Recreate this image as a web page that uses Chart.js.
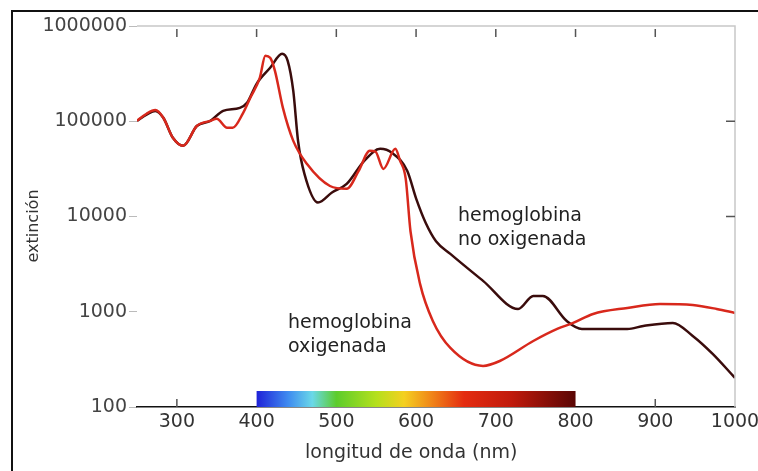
<!DOCTYPE html>
<html>
<head>
<meta charset="utf-8">
<script src="https://cdn.jsdelivr.net/npm/chart.js@4.4.1/dist/chart.umd.min.js"></script>
<style>
  html, body { margin: 0; padding: 0; background: #fff; }
  canvas { display: block; }
</style>
</head>
<body>
<canvas id="spectrum-chart" width="758" height="471"></canvas>
<script>
// wavelength axis (nm) and extinction axis (log)
const wavelengthTicks = [300, 400, 500, 600, 700, 800, 900, 1000];
const extinctionTicks = [100, 1000, 10000, 100000, 1000000];
const innerTopTicks = [300, 400, 500, 600, 700, 800, 900];
const innerBottomTicks = [300, 900];
const innerRightTicks = [10000, 100000];

// hemoglobina no oxigenada
const deoxyNm = [250, 262, 273, 283, 295, 308, 325, 342, 358, 379,
  388, 400, 417, 432, 439, 446, 452, 460, 477, 495,
  513, 535, 555, 570, 589, 600, 612, 625, 643, 684,
  728, 747, 759, 789, 808, 865, 885, 922, 947, 972, 1000];
const deoxyValues = [101000, 117000, 128500, 108700, 67000, 55200, 89100, 101000, 128500, 138000,
  156000, 247000, 364000, 511000, 431000, 208000, 62000, 28000, 14000, 18000,
  22000, 38400, 51300, 46500, 30000, 15500, 8600, 5500, 4050, 2110,
  1070, 1466, 1466, 800, 659, 659, 709, 763, 557, 361, 202];

// hemoglobina oxigenada
const oxyNm = [250, 262, 273, 283, 295, 308, 325, 342, 350, 363,
  370, 383, 392, 404, 411, 417, 423, 433, 446, 463,
  492, 513, 528, 542, 549, 559, 574, 580, 587, 593,
  605, 621, 643, 684, 705, 747, 777, 797, 822, 865,
  906, 947, 977, 1000];
const oxyValues = [101000, 120000, 131000, 108700, 67000, 55200, 89100, 101000, 106000, 85300,
  85300, 122000, 176000, 286000, 487000, 463000, 338000, 138000, 62200, 35700,
  20900, 19500, 30100, 48900, 48000, 31600, 51300, 38400, 25000, 7000,
  1960, 800, 417, 270, 304, 493, 660, 763, 948, 1097,
  1209, 1178, 1070, 971];

// visible spectrum strip
const spectrumNm = [400, 440, 470, 500, 550, 585, 620, 660, 720, 800];
const spectrumColors = ['#1f22d8', '#3f8cf0', '#6ad8e8', '#5ccc2c', '#b4e01c', '#f4d020',
  '#f08418', '#e42c10', '#c01a0c', '#5a0604'];

const FONT = '"DejaVu Sans", sans-serif';

const toPoints = (xs, ys) => xs.map((x, i) => ({ x: x, y: ys[i] }));

const decorations = {
  id: 'decorations',
  afterDatasetsDraw(chart) {
    const { ctx, chartArea: a, scales: { x, y } } = chart;
    ctx.save();

    // light frame on top and right
    ctx.strokeStyle = '#c8c8c8';
    ctx.lineWidth = 1.5;
    ctx.beginPath();
    ctx.moveTo(a.left, a.top);
    ctx.lineTo(a.right, a.top);
    ctx.lineTo(a.right, a.bottom);
    ctx.stroke();

    // inner tick marks
    ctx.strokeStyle = '#555';
    ctx.lineWidth = 1.5;
    ctx.beginPath();
    innerTopTicks.forEach(v => {
      const px = x.getPixelForValue(v);
      ctx.moveTo(px, a.top + 3);
      ctx.lineTo(px, a.top + 11);
    });
    innerBottomTicks.forEach(v => {
      const px = x.getPixelForValue(v);
      ctx.moveTo(px, a.bottom);
      ctx.lineTo(px, a.bottom - 8);
    });
    innerRightTicks.forEach(v => {
      const py = y.getPixelForValue(v);
      ctx.moveTo(a.right, py);
      ctx.lineTo(a.right - 9, py);
    });
    ctx.stroke();

    // spectrum strip
    const x0 = x.getPixelForValue(spectrumNm[0]);
    const x1 = x.getPixelForValue(spectrumNm[spectrumNm.length - 1]);
    const grad = ctx.createLinearGradient(x0, 0, x1, 0);
    spectrumNm.forEach((nm, i) => {
      grad.addColorStop((x.getPixelForValue(nm) - x0) / (x1 - x0), spectrumColors[i]);
    });
    ctx.fillStyle = grad;
    ctx.fillRect(x0, a.bottom - 16, x1 - x0, 16);

    // curve labels
    ctx.fillStyle = '#222';
    ctx.font = '19px ' + FONT;
    ctx.textBaseline = 'middle';
    ctx.textAlign = 'left';
    ctx.fillText('hemoglobina', 458, 216);
    ctx.fillText('no oxigenada', 458, 240);
    ctx.fillText('hemoglobina', 288, 323);
    ctx.fillText('oxigenada', 288, 347);

    // axis titles
    ctx.fillStyle = '#333';
    ctx.textAlign = 'left';
    ctx.fillText('longitud de onda (nm)', 305, 453);
    ctx.save();
    ctx.translate(34, 226);
    ctx.rotate(-Math.PI / 2);
    ctx.textAlign = 'center';
    ctx.font = '16px ' + FONT;
    ctx.fillText('extinción', 0, 0);
    ctx.restore();

    // outer border
    ctx.strokeStyle = '#111';
    ctx.lineWidth = 2;
    ctx.beginPath();
    ctx.moveTo(12, chart.height);
    ctx.lineTo(12, 11);
    ctx.lineTo(chart.width, 11);
    ctx.stroke();

    ctx.restore();
  }
};

new Chart(document.getElementById('spectrum-chart'), {
  type: 'line',
  data: {
    datasets: [
      {
        label: 'hemoglobina oxigenada',
        data: toPoints(oxyNm, oxyValues),
        borderColor: '#d8281c',
        borderWidth: 2.5,
        pointRadius: 0,
        cubicInterpolationMode: 'monotone',
        fill: false
      },
      {
        label: 'hemoglobina no oxigenada',
        data: toPoints(deoxyNm, deoxyValues),
        borderColor: '#3a0c0c',
        borderWidth: 2.5,
        pointRadius: 0,
        cubicInterpolationMode: 'monotone',
        fill: false
      }
    ]
  },
  options: {
    responsive: false,
    animation: false,
    layout: { padding: { top: 26, right: 23, left: 0, bottom: 0 } },
    plugins: {
      legend: { display: false },
      tooltip: { enabled: false }
    },
    scales: {
      x: {
        type: 'linear',
        min: 250,
        max: 1000,
        afterBuildTicks: s => { s.ticks = wavelengthTicks.map(v => ({ value: v })); },
        afterFit: s => {
          s.height = 64;
          s.paddingLeft = 0;
          s.paddingRight = 0;
        },
        ticks: {
          font: { family: FONT, size: 19 },
          color: '#333',
          padding: 4,
          maxRotation: 0,
          autoSkip: false,
          callback: v => String(v)
        },
        grid: { display: false, drawTicks: false, tickLength: 0 },
        border: { display: true, color: '#111', width: 1.5 }
      },
      y: {
        type: 'logarithmic',
        min: 100,
        max: 1000000,
        afterBuildTicks: s => { s.ticks = extinctionTicks.map(v => ({ value: v })); },
        afterFit: s => { s.width = 137; },
        ticks: {
          font: { family: FONT, size: 19 },
          color: '#444',
          padding: 2,
          callback: v => String(v)
        },
        grid: {
          drawOnChartArea: false,
          drawTicks: true,
          tickLength: 8,
          color: '#bbb'
        },
        border: { display: false }
      }
    }
  },
  plugins: [decorations]
});
</script>
</body>
</html>
